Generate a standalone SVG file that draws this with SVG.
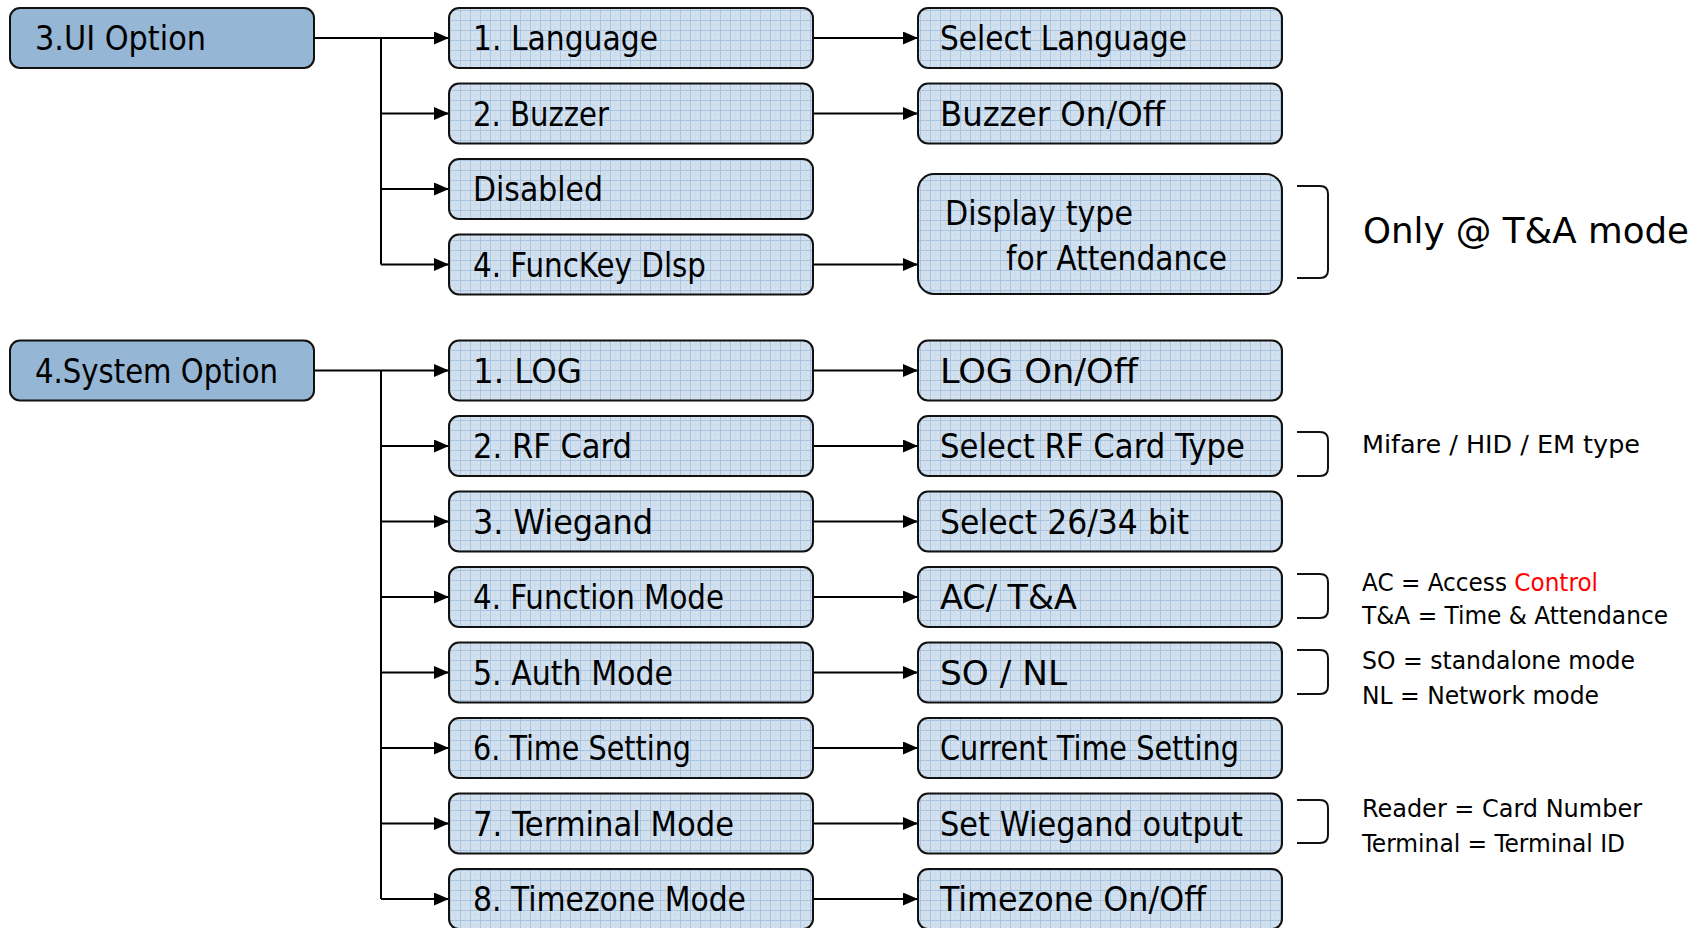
<svg xmlns="http://www.w3.org/2000/svg" width="1703" height="928" viewBox="0 0 1703 928">
<defs>
<pattern id="grid" width="10" height="10" patternUnits="userSpaceOnUse">
<rect width="10" height="10" fill="#d3e1ef"/>
<path d="M0,0.5 H10 M0.5,0 V10" stroke="#a8c4e0" stroke-width="1" fill="none"/>
<path d="M5,0 V10 M0,5 H10" stroke="#c3d6ea" stroke-width="0.6" fill="none"/>
</pattern>
<marker id="arr" markerUnits="userSpaceOnUse" markerWidth="16" markerHeight="14" refX="15" refY="6.5" orient="auto">
<path d="M0,0 L15,6.5 L0,13 Z" fill="#000"/>
</marker>
</defs>
<style>
.root{fill:#95b6d4;stroke:#111;stroke-width:2}
.node{fill:url(#grid);stroke:#111;stroke-width:2}
.t{font-family:"DejaVu Sans Condensed","DejaVu Sans",sans-serif;font-size:33px;fill:#000}
.n{font-family:"DejaVu Sans Condensed","DejaVu Sans",sans-serif;font-size:25px;fill:#000}
.c{stroke:#000;stroke-width:2;fill:none}
.ca{stroke:#000;stroke-width:2;fill:none;marker-end:url(#arr)}
.br{stroke:#111;stroke-width:2;fill:none}
</style>

<g id="connectors">
<path class="c" d="M314,38 H381" stroke-width="2.5"/>
<path class="c" d="M381,38 V264.5"/>
<path class="ca" d="M381,38 H449"/>
<path class="ca" d="M381,113.5 H449"/>
<path class="ca" d="M381,189 H449"/>
<path class="ca" d="M381,264.5 H449"/>
<path class="ca" d="M813,38 H918"/>
<path class="ca" d="M813,113.5 H918"/>
<path class="ca" d="M813,264.5 H918"/>

<path class="c" d="M314,370.5 H381" stroke-width="2.5"/>
<path class="c" d="M381,370.5 V899"/>
<path class="ca" d="M381,370.5 H449"/>
<path class="ca" d="M381,446 H449"/>
<path class="ca" d="M381,521.5 H449"/>
<path class="ca" d="M381,597 H449"/>
<path class="ca" d="M381,672.5 H449"/>
<path class="ca" d="M381,748 H449"/>
<path class="ca" d="M381,823.5 H449"/>
<path class="ca" d="M381,899 H449"/>
<path class="ca" d="M813,370.5 H918"/>
<path class="ca" d="M813,446 H918"/>
<path class="ca" d="M813,521.5 H918"/>
<path class="ca" d="M813,597 H918"/>
<path class="ca" d="M813,672.5 H918"/>
<path class="ca" d="M813,748 H918"/>
<path class="ca" d="M813,823.5 H918"/>
<path class="ca" d="M813,899 H918"/>
</g>

<g id="ui-option"><rect class="root" x="10" y="8" width="304" height="60" rx="10"/><text class="t" x="35" y="50" textLength="171" lengthAdjust="spacingAndGlyphs">3.UI Option</text></g>
<g id="language"><rect class="node" x="449" y="8" width="364" height="60" rx="10"/><text class="t" x="473" y="50" textLength="185" lengthAdjust="spacingAndGlyphs">1. Language</text></g>
<g id="buzzer"><rect class="node" x="449" y="83.5" width="364" height="60" rx="10"/><text class="t" x="473" y="125.5" textLength="136" lengthAdjust="spacingAndGlyphs">2. Buzzer</text></g>
<g id="disabled"><rect class="node" x="449" y="159" width="364" height="60" rx="10"/><text class="t" x="473" y="201" textLength="130" lengthAdjust="spacingAndGlyphs">Disabled</text></g>
<g id="funckey"><rect class="node" x="449" y="234.5" width="364" height="60" rx="10"/><text class="t" x="473" y="276.5" textLength="233" lengthAdjust="spacingAndGlyphs">4. FuncKey Dlsp</text></g>
<g id="select-language"><rect class="node" x="918" y="8" width="364" height="60" rx="10"/><text class="t" x="940" y="50" textLength="247" lengthAdjust="spacingAndGlyphs">Select Language</text></g>
<g id="buzzer-onoff"><rect class="node" x="918" y="83.5" width="364" height="60" rx="10"/><text class="t" x="940" y="125.5" textLength="225" lengthAdjust="spacingAndGlyphs">Buzzer On/Off</text></g>
<g id="display-type"><rect class="node" x="918" y="174" width="364" height="120" rx="16"/><text class="t" x="945" y="225" textLength="188" lengthAdjust="spacingAndGlyphs">Display type</text><text class="t" x="1006" y="270" textLength="221" lengthAdjust="spacingAndGlyphs">for Attendance</text></g>

<g id="system-option"><rect class="root" x="10" y="340.5" width="304" height="60" rx="10"/><text class="t" x="35" y="382.5" textLength="243" lengthAdjust="spacingAndGlyphs">4.System Option</text></g>
<g id="log"><rect class="node" x="449" y="340.5" width="364" height="60" rx="10"/><text class="t" x="473" y="382.5" textLength="109" lengthAdjust="spacingAndGlyphs">1. LOG</text></g>
<g id="rf-card"><rect class="node" x="449" y="416" width="364" height="60" rx="10"/><text class="t" x="473" y="458" textLength="159" lengthAdjust="spacingAndGlyphs">2. RF Card</text></g>
<g id="wiegand"><rect class="node" x="449" y="491.5" width="364" height="60" rx="10"/><text class="t" x="473" y="533.5" textLength="180" lengthAdjust="spacingAndGlyphs">3. Wiegand</text></g>
<g id="function-mode"><rect class="node" x="449" y="567" width="364" height="60" rx="10"/><text class="t" x="473" y="609" textLength="251" lengthAdjust="spacingAndGlyphs">4. Function Mode</text></g>
<g id="auth-mode"><rect class="node" x="449" y="642.5" width="364" height="60" rx="10"/><text class="t" x="473" y="684.5" textLength="200" lengthAdjust="spacingAndGlyphs">5. Auth Mode</text></g>
<g id="time-setting"><rect class="node" x="449" y="718" width="364" height="60" rx="10"/><text class="t" x="473" y="760" textLength="218" lengthAdjust="spacingAndGlyphs">6. Time Setting</text></g>
<g id="terminal-mode"><rect class="node" x="449" y="793.5" width="364" height="60" rx="10"/><text class="t" x="473" y="835.5" textLength="261" lengthAdjust="spacingAndGlyphs">7. Terminal Mode</text></g>
<g id="timezone-mode"><rect class="node" x="449" y="869" width="364" height="60" rx="10"/><text class="t" x="473" y="911" textLength="273" lengthAdjust="spacingAndGlyphs">8. Timezone Mode</text></g>

<g id="log-onoff"><rect class="node" x="918" y="340.5" width="364" height="60" rx="10"/><text class="t" x="940" y="382.5" textLength="198" lengthAdjust="spacingAndGlyphs">LOG On/Off</text></g>
<g id="select-rf"><rect class="node" x="918" y="416" width="364" height="60" rx="10"/><text class="t" x="940" y="458" textLength="305" lengthAdjust="spacingAndGlyphs">Select RF Card Type</text></g>
<g id="select-bit"><rect class="node" x="918" y="491.5" width="364" height="60" rx="10"/><text class="t" x="940" y="533.5" textLength="249" lengthAdjust="spacingAndGlyphs">Select 26/34 bit</text></g>
<g id="ac-ta"><rect class="node" x="918" y="567" width="364" height="60" rx="10"/><text class="t" x="940" y="609" textLength="137" lengthAdjust="spacingAndGlyphs">AC/ T&amp;A</text></g>
<g id="so-nl"><rect class="node" x="918" y="642.5" width="364" height="60" rx="10"/><text class="t" x="940" y="684.5" textLength="127" lengthAdjust="spacingAndGlyphs">SO / NL</text></g>
<g id="current-time"><rect class="node" x="918" y="718" width="364" height="60" rx="10"/><text class="t" x="940" y="760" textLength="299" lengthAdjust="spacingAndGlyphs">Current Time Setting</text></g>
<g id="wiegand-output"><rect class="node" x="918" y="793.5" width="364" height="60" rx="10"/><text class="t" x="940" y="835.5" textLength="303" lengthAdjust="spacingAndGlyphs">Set Wiegand output</text></g>
<g id="timezone-onoff"><rect class="node" x="918" y="869" width="364" height="60" rx="10"/><text class="t" x="940" y="911" textLength="266" lengthAdjust="spacingAndGlyphs">Timezone On/Off</text></g>

<g id="notes">
<path class="br" d="M1297,186 H1320 Q1328,186 1328,194 V270 Q1328,278 1320,278 H1297"/>
<text class="t" x="1363" y="243" font-size="36" textLength="326" lengthAdjust="spacingAndGlyphs" style="font-size:36px">Only @ T&amp;A mode</text>
<path class="br" d="M1297,432 H1320 Q1328,432 1328,440 V468 Q1328,476 1320,476 H1297"/>
<text class="n" x="1362" y="453" textLength="278" lengthAdjust="spacingAndGlyphs">Mifare / HID / EM type</text>
<path class="br" d="M1297,574 H1320 Q1328,574 1328,582 V610 Q1328,618 1320,618 H1297"/>
<text class="n" x="1362" y="591" textLength="236" lengthAdjust="spacingAndGlyphs">AC = Access <tspan fill="#ff0000">Control</tspan></text>
<text class="n" x="1362" y="624" textLength="306" lengthAdjust="spacingAndGlyphs">T&amp;A = Time &amp; Attendance</text>
<path class="br" d="M1297,650 H1320 Q1328,650 1328,658 V686 Q1328,694 1320,694 H1297"/>
<text class="n" x="1362" y="669" textLength="273" lengthAdjust="spacingAndGlyphs">SO = standalone mode</text>
<text class="n" x="1362" y="704" textLength="237" lengthAdjust="spacingAndGlyphs">NL = Network mode</text>
<path class="br" d="M1297,800 H1320 Q1328,800 1328,808 V835 Q1328,843 1320,843 H1297"/>
<text class="n" x="1362" y="817" textLength="280" lengthAdjust="spacingAndGlyphs">Reader = Card Number</text>
<text class="n" x="1362" y="852" textLength="263" lengthAdjust="spacingAndGlyphs">Terminal = Terminal ID</text>
</g>
</svg>
